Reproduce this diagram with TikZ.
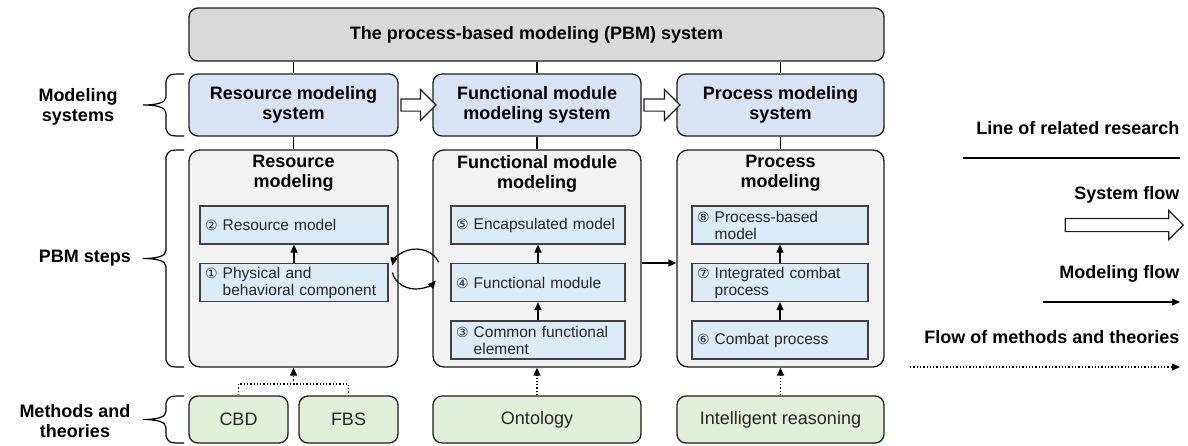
\documentclass[tikz,border=0pt]{standalone}
\usepackage{fontspec}
\setmainfont{Liberation Sans}
\newfontfamily\circfont{DejaVu Sans}
\usepackage{xcolor}
\usepackage{tikz}
\usetikzlibrary{arrows.meta,positioning,shapes.arrows}
\definecolor{pbmgray}{RGB}{217,217,217}
\definecolor{sysblue}{RGB}{218,227,243}
\definecolor{stepgray}{RGB}{242,242,242}
\definecolor{innerblue}{RGB}{221,235,247}
\definecolor{methgreen}{RGB}{226,239,218}
\definecolor{edgedark}{RGB}{30,30,30}
\definecolor{textdark}{RGB}{38,38,38}

\newcommand{\labfont}{\fontsize{18}{20}\selectfont\bfseries}
\newcommand{\stepfont}{\fontsize{15.5}{17}\selectfont\hyphenpenalty=10000}
\newcommand{\cn}[1]{{\circfont\fontsize{14}{14}\selectfont #1}}
% left curly brace between two heights
\newcommand{\sidebrace}[2]{%
  \pgfmathsetmacro{\bmid}{(#1+#2)/2}
  \draw[line width=1.2pt] (184,#1) .. controls (169,#1) .. (166,#1+7) -- (166,\bmid-8)
    .. controls (166,\bmid-2) and (156,\bmid) .. (143,\bmid)
    .. controls (156,\bmid) and (166,\bmid+2) .. (166,\bmid+8) -- (166,#2-7)
    .. controls (169,#2) .. (184,#2);}

\begin{document}
\begin{tikzpicture}[x=1pt, y=-1pt, line width=1.3pt,
    topbox/.style={draw=edgedark, fill=pbmgray, rounded corners=9pt, font=\labfont, inner sep=0pt},
    sysbox/.style={draw=edgedark, fill=sysblue, rounded corners=9pt, font=\labfont, align=center, inner sep=0pt, minimum height=62pt},
    stepframe/.style={draw=edgedark, fill=stepgray, rounded corners=11pt, minimum height=217pt, inner sep=0pt},
    steptitle/.style={font=\labfont, align=center, inner sep=0pt},
    stepbox/.style={draw=edgedark!85, fill=innerblue, font=\stepfont, text=textdark, align=left, inner xsep=5pt, inner ysep=0pt, minimum height=38pt},
    methbox/.style={draw=edgedark, fill=methgreen, rounded corners=9pt, font=\fontsize{18}{20}\selectfont, text=textdark, minimum height=47pt, inner sep=0pt},
    labtxt/.style={font=\labfont, align=center, inner sep=0pt},
    sysflow/.style={single arrow, draw=edgedark, fill=white, line width=1.2pt, inner xsep=0pt, inner ysep=5.5pt, single arrow head extend=9.5pt, minimum width=0pt},
    flow/.style={-{Triangle[length=8pt,width=7pt]}},
    methflow/.style={dotted, -{Triangle[length=8pt,width=7pt]}}]
  \useasboundingbox (0,0) rectangle (1188,445);

  % PBM system
  \node[topbox, minimum width=695pt, minimum height=53pt] (pbm) at (536.5,34.5) {The process-based modeling (PBM) system};

  % Modeling systems
  \node[sysbox, minimum width=209pt] (rsys) at (293.5,105) {Resource modeling\\system};
  \node[sysbox, minimum width=208pt] (fsys) at (537,105) {Functional module\\modeling system};
  \node[sysbox, minimum width=207pt] (psys) at (780.5,105) {Process modeling\\system};
  \path (rsys) -- node[sysflow, minimum height=35pt] (rfarrow) {} (fsys);
  \path (fsys) -- node[sysflow, minimum height=36pt] (fparrow) {} (psys);
  \foreach \s in {rsys,fsys,psys} {
    \draw (pbm.south -| \s.north) -- (\s.north);
  }

  % PBM steps
  \node[stepframe, minimum width=209pt] (rstep) at (293.5,258.5) {};
  \node[stepframe, minimum width=208pt] (fstep) at (537,258.5) {};
  \node[stepframe, minimum width=207pt] (pstep) at (780.5,258.5) {};
  \node[steptitle, below=5pt of rstep.north] (rtitle) {Resource\\modeling};
  \node[steptitle, below=5pt of fstep.north] (ftitle) {Functional module\\modeling};
  \node[steptitle, below=5pt of pstep.north] (ptitle) {Process\\modeling};
  \draw (rsys) -- (rstep);
  \draw (fsys) -- (fstep);
  \draw (psys) -- (pstep);

  % resource modeling
  \node[stepbox, minimum width=188pt, text width=178pt] (s2) at (294,225) {\cn{②} Resource model};
  \node[stepbox, minimum width=188pt, text width=178pt] (s1) at (294,282.5) {\cn{①} Physical and\\\phantom{\cn{①} }behavioral component};
  \draw[flow] (s1) -- (s2);

  % functional module modeling
  \node[stepbox, minimum width=174pt, text width=164pt] (s5) at (538,225) {\cn{⑤} Encapsulated model};
  \node[stepbox, minimum width=174pt, text width=164pt] (s4) at (538,282.5) {\cn{④} Functional module};
  \node[stepbox, minimum width=174pt, text width=164pt] (s3) at (538,340) {\cn{③} Common functional\\\phantom{\cn{③} }element};
  \draw[flow] (s3) -- (s4);
  \draw[flow] (s4) -- (s5);

  % process modeling
  \node[stepbox, minimum width=176pt, text width=166pt] (s8) at (780,225) {\cn{⑧} Process-based\\\phantom{\cn{⑧} }model};
  \node[stepbox, minimum width=176pt, text width=166pt] (s7) at (780,282.5) {\cn{⑦} Integrated combat\\\phantom{\cn{⑦} }process};
  \node[stepbox, minimum width=176pt, text width=166pt] (s6) at (780,340) {\cn{⑥} Combat process};
  \draw[flow] (s6) -- (s7);
  \draw[flow] (s7) -- (s8);

  % cycle between components and modules
  \draw[flow, line width=1.2pt] (438.6,262.2) arc[start angle=-20, end angle=-170, x radius=24, y radius=20];
  \draw[flow, line width=1.2pt] (392.4,272.5) arc[start angle=170, end angle=35, x radius=24, y radius=20];
  \draw[flow] ([yshift=-4.5pt]fstep.east) -- ([yshift=-4.5pt]pstep.west);

  % Methods and theories
  \node[methbox, minimum width=99pt] (cbd) at (238.5,419.5) {CBD};
  \node[methbox, minimum width=99pt] (fbs) at (348.5,419.5) {FBS};
  \node[methbox, minimum width=208pt] (onto) at (537,419.5) {Ontology};
  \node[methbox, minimum width=207pt] (intel) at (780.5,419.5) {Intelligent reasoning};
  \coordinate (mjoin) at (293.5,384);
  \draw[dotted] (cbd.north) |- (mjoin) -| (fbs.north);
  \draw[methflow] (mjoin) -- (rstep.south);
  \draw[methflow] (onto) -- (fstep);
  \draw[methflow] (intel) -- (pstep);

  % Left labels
  \node[labtxt] (lsys) at (78,107) {Modeling\\systems};
  \node[labtxt] (lsteps) at (85,258.5) {PBM steps};
  \node[labtxt] (lmeth) at (75,421) {Methods and\\theories};
  \sidebrace{74}{136}
  \sidebrace{150}{367}
  \sidebrace{396}{443}

  % Legend
  \node[labtxt, anchor=east] (lgline) at (1180,128) {Line of related research};
  \coordinate (lineA) at (963,158);
  \coordinate (lineB) at (1180,158);
  \draw (lineA) -- (lineB);
  \node[labtxt, anchor=east] (lgsys) at (1180,195) {System flow};
  \node[sysflow, minimum height=118pt, inner ysep=6pt, single arrow head extend=8pt] (lgarrow) at (1121,225) {};
  \node[labtxt, anchor=east] (lgmod) at (1180,274) {Modeling flow};
  \coordinate (modA) at (1043,302);
  \coordinate (modB) at (1180,302);
  \draw[flow] (modA) -- (modB);
  \node[labtxt, anchor=east] (lgmeth) at (1180,337) {Flow of methods and theories};
  \coordinate (methA) at (910,367);
  \coordinate (methB) at (1180,367);
  \draw[methflow] (methA) -- (methB);
\end{tikzpicture}
\end{document}
